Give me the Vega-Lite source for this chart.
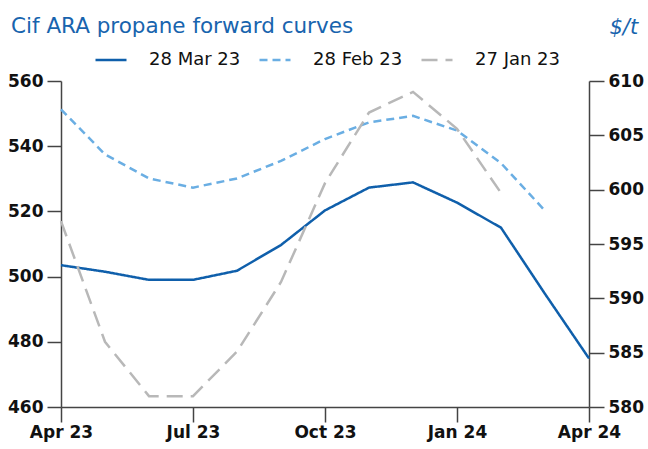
{
  "$schema": "https://vega.github.io/schema/vega-lite/v6.json",
  "width": 528,
  "height": 326,
  "autosize": {"type": "none"},
  "padding": {"left": 61, "top": 81, "right": 59, "bottom": 42},
  "background": "white",
  "title": {
    "text": "Cif ARA propane forward curves",
    "anchor": "start",
    "frame": "group",
    "font": "DejaVu Sans",
    "fontSize": 21.5,
    "fontWeight": "normal",
    "color": "#1864ae",
    "dx": -50,
    "dy": 21,
    "offset": 0
  },
  "config": {
    "view": {"stroke": null},
    "axis": {
      "labelFont": "DejaVu Sans",
      "labelFontWeight": "bold",
      "labelFontSize": 17,
      "labelColor": "#111111",
      "domainColor": "#444444",
      "domainWidth": 1.5,
      "tickColor": "#444444",
      "tickWidth": 1.5,
      "tickSize": 14,
      "labelPadding": 4,
      "grid": false
    }
  },
  "data": {
    "values": [
      {"month": "Apr 23", "series": "28 Mar 23", "value": 503.5},
      {"month": "May 23", "series": "28 Mar 23", "value": 501.5},
      {"month": "Jun 23", "series": "28 Mar 23", "value": 499.0},
      {"month": "Jul 23", "series": "28 Mar 23", "value": 499.0},
      {"month": "Aug 23", "series": "28 Mar 23", "value": 501.8},
      {"month": "Sep 23", "series": "28 Mar 23", "value": 509.7},
      {"month": "Oct 23", "series": "28 Mar 23", "value": 520.3},
      {"month": "Nov 23", "series": "28 Mar 23", "value": 527.3},
      {"month": "Dec 23", "series": "28 Mar 23", "value": 528.9},
      {"month": "Jan 24", "series": "28 Mar 23", "value": 522.7},
      {"month": "Feb 24", "series": "28 Mar 23", "value": 515.0},
      {"month": "Mar 24", "series": "28 Mar 23", "value": 494.7},
      {"month": "Apr 24", "series": "28 Mar 23", "value": 474.9},
      {"month": "Apr 23", "series": "28 Feb 23", "value": 551.3},
      {"month": "May 23", "series": "28 Feb 23", "value": 537.5},
      {"month": "Jun 23", "series": "28 Feb 23", "value": 530.1},
      {"month": "Jul 23", "series": "28 Feb 23", "value": 527.3},
      {"month": "Aug 23", "series": "28 Feb 23", "value": 530.1},
      {"month": "Sep 23", "series": "28 Feb 23", "value": 535.5},
      {"month": "Oct 23", "series": "28 Feb 23", "value": 542.2},
      {"month": "Nov 23", "series": "28 Feb 23", "value": 547.3},
      {"month": "Dec 23", "series": "28 Feb 23", "value": 549.3},
      {"month": "Jan 24", "series": "28 Feb 23", "value": 544.8},
      {"month": "Feb 24", "series": "28 Feb 23", "value": 534.8},
      {"month": "Mar 24", "series": "28 Feb 23", "value": 520.2},
      {"month": "Apr 23", "series": "27 Jan 23", "value": 597.1},
      {"month": "May 23", "series": "27 Jan 23", "value": 586.0},
      {"month": "Jun 23", "series": "27 Jan 23", "value": 581.0},
      {"month": "Jul 23", "series": "27 Jan 23", "value": 581.0},
      {"month": "Aug 23", "series": "27 Jan 23", "value": 585.1},
      {"month": "Sep 23", "series": "27 Jan 23", "value": 591.5},
      {"month": "Oct 23", "series": "27 Jan 23", "value": 600.6},
      {"month": "Nov 23", "series": "27 Jan 23", "value": 607.1},
      {"month": "Dec 23", "series": "27 Jan 23", "value": 609.0},
      {"month": "Jan 24", "series": "27 Jan 23", "value": 605.6},
      {"month": "Feb 24", "series": "27 Jan 23", "value": 599.7}
    ]
  },
  "encoding": {
    "x": {
      "field": "month",
      "type": "ordinal",
      "scale": {
        "type": "point",
        "padding": 0,
        "domain": ["Apr 23", "May 23", "Jun 23", "Jul 23", "Aug 23", "Sep 23", "Oct 23", "Nov 23", "Dec 23", "Jan 24", "Feb 24", "Mar 24", "Apr 24"]
      },
      "axis": {
        "title": null,
        "values": ["Apr 23", "Jul 23", "Oct 23", "Jan 24", "Apr 24"],
        "labelAngle": 0,
        "tickSize": 15,
        "labelPadding": 2
      }
    },
    "color": {
      "field": "series",
      "type": "nominal",
      "scale": {
        "domain": ["28 Mar 23", "28 Feb 23", "27 Jan 23"],
        "range": ["#0f5fab", "#6aaee3", "#b8b8b8"]
      },
      "legend": {
        "title": null,
        "orient": "none",
        "direction": "horizontal",
        "legendX": 33,
        "legendY": -38,
        "symbolType": "stroke",
        "symbolSize": 961,
        "symbolStrokeWidth": 2.5,
        "labelFont": "DejaVu Sans",
        "labelFontSize": 18,
        "labelColor": "#111111",
        "labelOffset": 21,
        "columnPadding": 13
      }
    },
    "strokeDash": {
      "field": "series",
      "type": "nominal",
      "scale": {
        "domain": ["28 Mar 23", "28 Feb 23", "27 Jan 23"],
        "range": [[1, 0], [8, 5], [16, 8]]
      },
      "legend": {
        "title": null,
        "orient": "none",
        "direction": "horizontal",
        "legendX": 33,
        "legendY": -38,
        "symbolType": "stroke",
        "symbolSize": 961,
        "symbolStrokeWidth": 2.5,
        "labelFont": "DejaVu Sans",
        "labelFontSize": 18,
        "labelColor": "#111111",
        "labelOffset": 21,
        "columnPadding": 13
      }
    }
  },
  "layer": [
    {
      "transform": [{"filter": "datum.series != '27 Jan 23'"}],
      "mark": {"type": "line", "strokeWidth": 2.5},
      "encoding": {
        "y": {
          "field": "value",
          "type": "quantitative",
          "scale": {"domain": [460, 560], "zero": false, "nice": false},
          "axis": {"title": null, "values": [460, 480, 500, 520, 540, 560], "orient": "left"}
        }
      }
    },
    {
      "transform": [{"filter": "datum.series == '27 Jan 23'"}],
      "mark": {"type": "line", "strokeWidth": 2.5},
      "encoding": {
        "y": {
          "field": "value",
          "type": "quantitative",
          "scale": {"domain": [580, 610], "zero": false, "nice": false},
          "axis": {
            "title": "$/t",
            "orient": "right",
            "values": [580, 585, 590, 595, 600, 605, 610],
            "tickSize": 15,
            "titleAngle": 0,
            "titleAlign": "left",
            "titleBaseline": "alphabetic",
            "titleX": 20,
            "titleY": -48,
            "titleFont": "DejaVu Sans",
            "titleFontStyle": "italic",
            "titleFontWeight": "normal",
            "titleFontSize": 21,
            "titleColor": "#1864ae"
          }
        }
      }
    }
  ],
  "resolve": {"scale": {"y": "independent"}}
}
